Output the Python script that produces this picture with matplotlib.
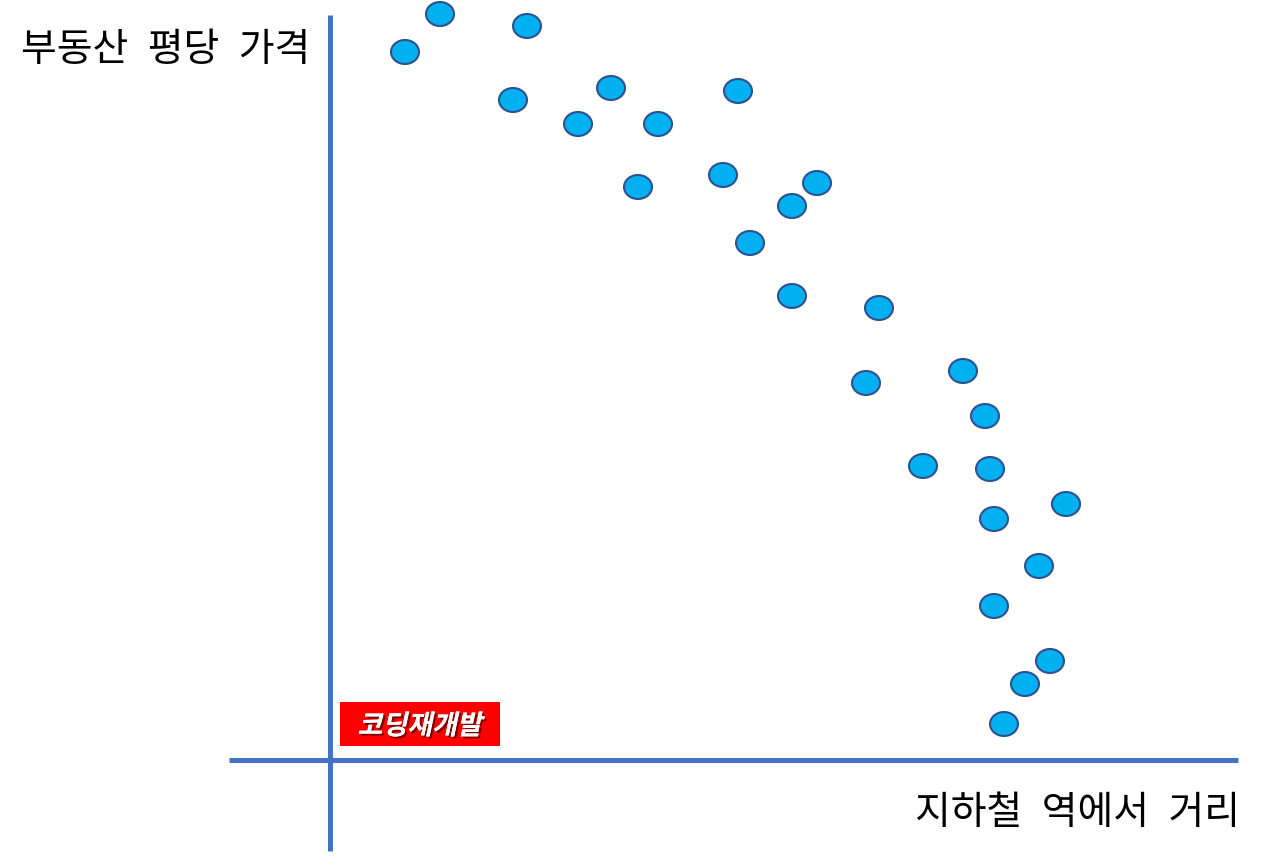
import matplotlib
matplotlib.use("Agg")
import matplotlib.pyplot as plt
from matplotlib.patches import Ellipse, Rectangle, PathPatch
from matplotlib.textpath import TextPath
from matplotlib.font_manager import FontProperties
from matplotlib.transforms import Affine2D
import matplotlib.patheffects as pe

plt.rcParams['font.family'] = ['Noto Sans CJK KR', 'DejaVu Sans']

# data: distance from subway station (x) vs price per pyeong (y), in chart units
distance = [110, 197, 75, 183, 281, 408, 248, 328, 308, 393, 487, 462, 420, 462,
            549, 536, 633, 655, 593, 660, 736, 664, 709, 664, 720, 695, 674]
price = [746, 734, 708, 660, 672, 669, 636, 636, 573, 585, 577, 554, 517, 464,
         452, 377, 389, 344, 294, 291, 256, 241, 194, 154, 99, 76, 36]

y_label = "부동산 평당 가격"
x_label = "지하철 역에서 거리"
badge = "코딩재개발"

W, H = 1267, 859
fig = plt.figure(figsize=(W / 100, H / 100), dpi=100)
ax = fig.add_axes([0, 0, 1, 1])
ax.set_xlim(-330, W - 330)
ax.set_ylim(760 - H, 760)
ax.axis('off')

axis_col = '#4472C4'
ax.plot([-101, 908], [0, 0], color=axis_col, lw=3.6, solid_capstyle='butt', zorder=2)
ax.plot([0, 0], [-91, 745], color=axis_col, lw=3.6, solid_capstyle='butt', zorder=2)

for x, y in zip(distance, price):
    ax.add_patch(Ellipse((x, y), 28, 24, facecolor='#00B0F0', edgecolor='#2F528F',
                         lw=1.5, zorder=3))

sp = "\u2002"
ax.text(-20, 710, y_label.replace(" ", sp), ha='right', va='center', fontsize=28, color='black')
ax.text(910, -53, x_label.replace(" ", sp), ha='right', va='center', fontsize=28, color='black')

ax.add_patch(Rectangle((10, 14), 160, 44, facecolor='#FF0000', edgecolor='none', zorder=2))

# italic (sheared) bold badge text
fp = FontProperties(family='Noto Sans CJK KR', weight='bold')
tp = TextPath((0, 0), badge, size=27, prop=fp)
bb = tp.get_extents()
tr = (Affine2D().translate(-(bb.x0 + bb.x1) / 2, -(bb.y0 + bb.y1) / 2)
      .skew_deg(12, 0).translate(92, 36))
path = tr.transform_path(tp)
patch = PathPatch(path, facecolor='white', edgecolor='none', zorder=4)
patch.set_path_effects([pe.withSimplePatchShadow(offset=(1.5, -1.5), shadow_rgbFace='#500000', alpha=0.7),
                        pe.Normal()])
ax.add_patch(patch)

fig.savefig('out.png', dpi=100)
